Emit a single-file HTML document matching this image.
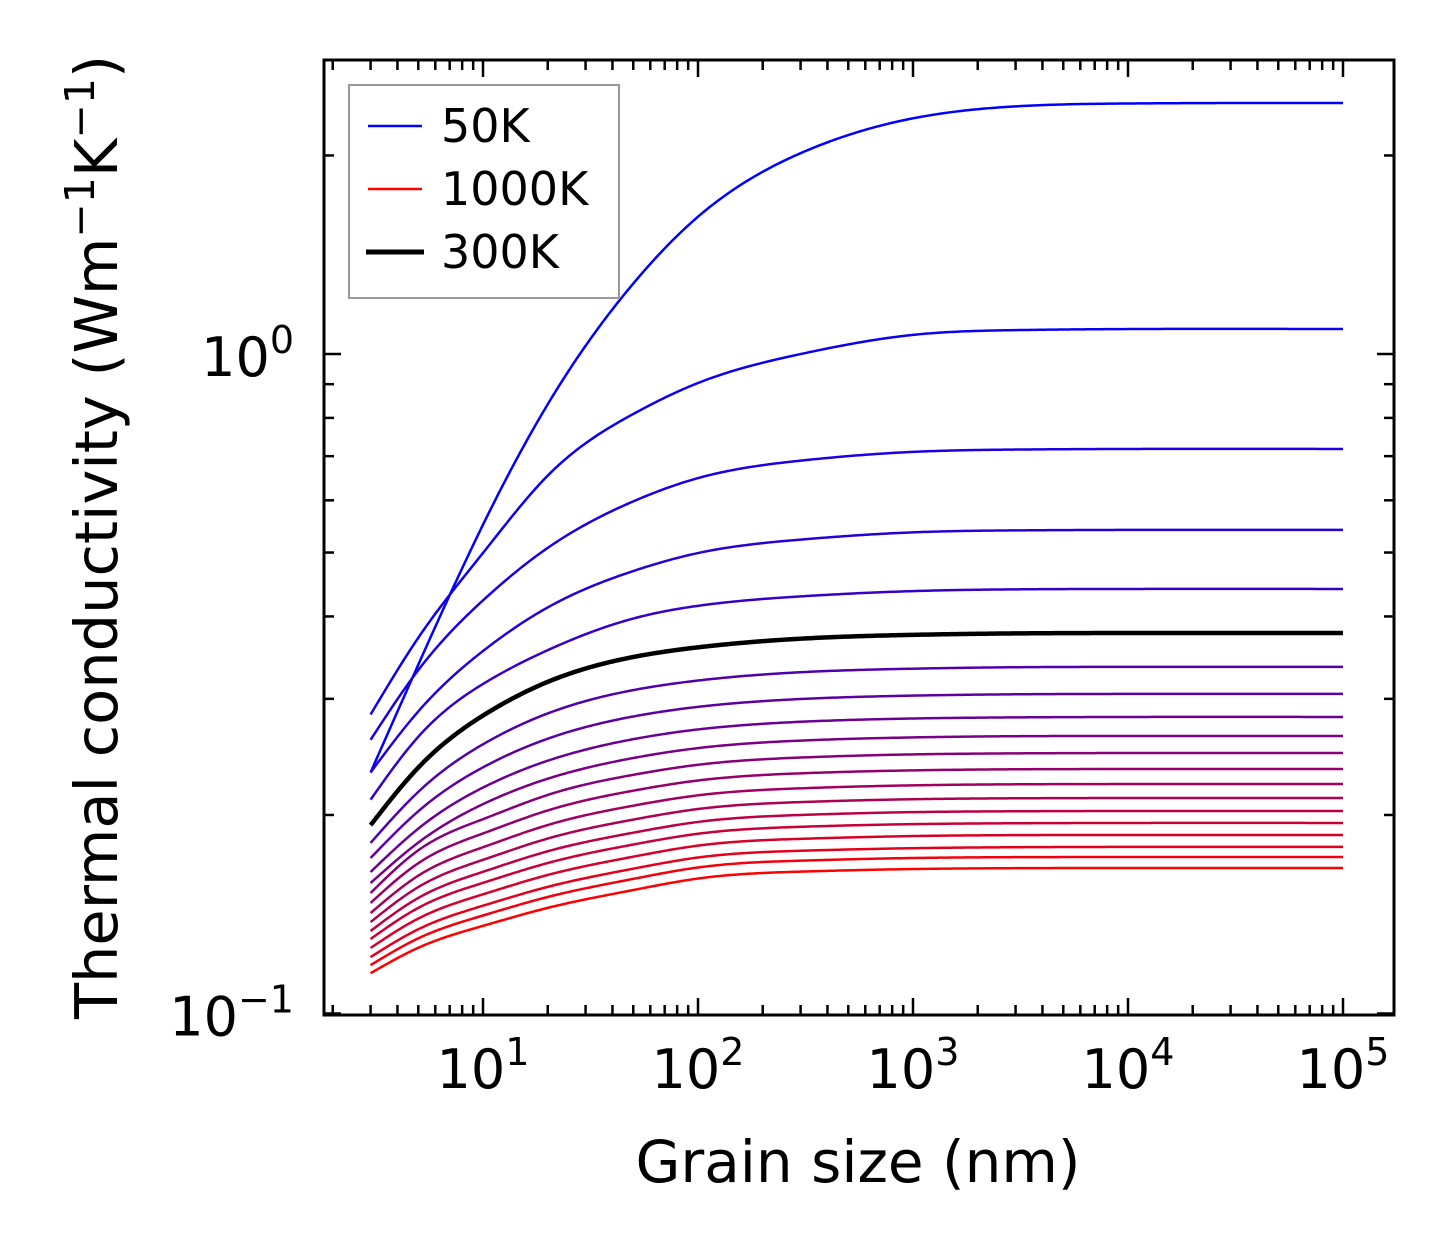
<!DOCTYPE html>
<html><head><meta charset="utf-8"><style>
html,body{margin:0;padding:0;background:#fff;}
svg{display:block;font-family:"DejaVu Sans","Liberation Sans",sans-serif;}
</style></head><body>
<svg id="chart" width="1454" height="1254" viewBox="0 0 1454 1254" xmlns="http://www.w3.org/2000/svg">
<rect width="1454" height="1254" fill="#fff"/>
<g id="series"></g>
<g id="ticks"></g>
<rect x="324" y="60" width="1070" height="955" fill="none" stroke="#000" stroke-width="3"/>
<g id="xlabels" font-size="54" text-anchor="middle"></g>
<g id="ylabels" font-size="54" text-anchor="end"></g>
<text x="858" y="1182" font-size="58" text-anchor="middle">Grain size (nm)</text>
<text transform="translate(117,537) rotate(-90)" font-size="59" text-anchor="middle">Thermal conductivity (Wm<tspan font-size="41" dy="-23">−1</tspan><tspan dy="23">K</tspan><tspan font-size="41" dy="-23">−1</tspan><tspan dy="23">)</tspan></text>
<g>
<rect x="349" y="85" width="270" height="213" fill="#fff" stroke="#999" stroke-width="2"/>
<line x1="368" y1="126" x2="422" y2="126" stroke="#0000ff" stroke-width="2.5"/>
<text x="441" y="142" font-size="46">50K</text>
<line x1="368" y1="189" x2="422" y2="189" stroke="#ff0000" stroke-width="2.5"/>
<text x="441" y="205" font-size="46">1000K</text>
<line x1="366" y1="252" x2="424" y2="252" stroke="#000" stroke-width="5"/>
<text x="441" y="268" font-size="46">300K</text>
</g>
</svg>
<script>
const grainSizes = [3, 5, 10, 20, 50, 100, 300, 1000, 3000, 10000, 100000];
const temperatures = [50,100,150,200,250,300,350,400,450,500,550,600,650,700,750,800,850,900,950,1000];
const k50 = [0.232,0.338,0.551,0.839,1.279,1.615,2.016,2.277,2.374,2.398,2.402];
const k100 = [0.284,0.3713,0.4993,0.654,0.8111,0.9037,0.9998,1.069,1.087,1.091,1.091];
const k150 = [0.260,0.3317,0.4231,0.5082,0.5978,0.6484,0.6891,0.7105,0.7163,0.7178,0.7178];
const k200 = [0.232,0.2871,0.3545,0.4128,0.4687,0.4991,0.5231,0.5365,0.5402,0.5411,0.5411];
const k250 = [0.211,0.2628,0.3160,0.3556,0.3971,0.4151,0.4290,0.4370,0.4397,0.4403,0.4403];
const k300 = [0.193,0.236,0.2830,0.3183,0.3472,0.3591,0.3701,0.3751,0.3770,0.3775,0.3775];
const k350 = [0.1814,0.2168,0.2560,0.2851,0.3093,0.3198,0.3292,0.3333,0.3350,0.3354,0.3354];
const k400 = [0.1721,0.2026,0.2362,0.2610,0.2821,0.2917,0.2998,0.3034,0.3048,0.3052,0.3052];
const k450 = [0.1639,0.1907,0.2201,0.2417,0.2606,0.2696,0.2769,0.2801,0.2812,0.2816,0.2816];
const k500 = [0.1577,0.1816,0.2077,0.2270,0.2440,0.2526,0.2593,0.2622,0.2633,0.2635,0.2635];
const k550 = [0.1523,0.1768,0.1971,0.2145,0.2301,0.2383,0.2444,0.2471,0.2480,0.2483,0.2483];
const k600 = [0.1471,0.1690,0.1875,0.2032,0.2177,0.2256,0.2313,0.2337,0.2346,0.2348,0.2348];
const k650 = [0.1420,0.1618,0.1787,0.1931,0.2066,0.2142,0.2195,0.2218,0.2226,0.2228,0.2228];
const k700 = [0.1376,0.1555,0.1710,0.1842,0.1968,0.2042,0.2092,0.2113,0.2120,0.2122,0.2122];
const k750 = [0.1334,0.1497,0.1640,0.1762,0.1880,0.1952,0.2000,0.2020,0.2026,0.2028,0.2028];
const k800 = [0.1297,0.1446,0.1578,0.1691,0.1804,0.1873,0.1919,0.1937,0.1943,0.1945,0.1945];
const k850 = [0.1257,0.1393,0.1516,0.1622,0.1729,0.1797,0.1840,0.1858,0.1864,0.1865,0.1865];
const k900 = [0.1218,0.1342,0.1457,0.1556,0.1658,0.1724,0.1765,0.1781,0.1787,0.1789,0.1789];
const k950 = [0.1184,0.1300,0.1408,0.1502,0.1600,0.1665,0.1705,0.1721,0.1726,0.1727,0.1727];
const k1000 = [0.1151,0.1258,0.1358,0.1446,0.1539,0.1602,0.1641,0.1656,0.1661,0.1662,0.1662];
const xTickExps = [1,2,3,4,5];
const yTickExps = [0,-1];

const seriesList = [k50,k100,k150,k200,k250,k300,k350,k400,k450,k500,k550,k600,k650,k700,k750,k800,k850,k900,k950,k1000];
const NS = "http://www.w3.org/2000/svg";
const X0 = 483, XD = 215;
const Y0 = 354, YD = 659.5;
const L = 324, R = 1394, T = 60, B = 1015;
function xs(v){ return X0 + (Math.log10(v) - 1) * XD; }
function ys(v){ return Y0 - Math.log10(v) * YD; }

function splinePath(px, py){
  const n = px.length, h = [], al = [], l = [1], mu = [0], z = [0], c = new Array(n).fill(0), b = [], d = [];
  for (let i=0;i<n-1;i++) h.push(px[i+1]-px[i]);
  for (let i=1;i<n-1;i++) al[i] = 3/h[i]*(py[i+1]-py[i]) - 3/h[i-1]*(py[i]-py[i-1]);
  for (let i=1;i<n-1;i++){
    l[i] = 2*(px[i+1]-px[i-1]) - h[i-1]*mu[i-1];
    mu[i] = h[i]/l[i];
    z[i] = (al[i] - h[i-1]*z[i-1])/l[i];
  }
  for (let j=n-2;j>=0;j--){
    c[j] = (j>0 ? z[j] - mu[j]*c[j+1] : 0);
    b[j] = (py[j+1]-py[j])/h[j] - h[j]*(c[j+1]+2*c[j])/3;
    d[j] = (c[j+1]-c[j])/(3*h[j]);
  }
  let p = "M"+px[0].toFixed(2)+","+py[0].toFixed(2);
  for (let j=0;j<n-1;j++){
    const steps = Math.max(4, Math.ceil(h[j]/3));
    for (let s=1;s<=steps;s++){
      const t = h[j]*s/steps;
      const y = py[j] + b[j]*t + c[j]*t*t + d[j]*t*t*t;
      p += " L"+(px[j]+t).toFixed(2)+","+y.toFixed(2);
    }
  }
  return p;
}

const gS = document.getElementById("series");
const order = [];
for (let i=0;i<seriesList.length;i++) if (temperatures[i]!==300) order.push(i);
order.push(temperatures.indexOf(300));
order.forEach(i=>{
  const vals = seriesList[i];
  const px = grainSizes.map(xs), py = vals.map(ys);
  const el = document.createElementNS(NS,"path");
  el.setAttribute("d", splinePath(px,py));
  const t = i/(seriesList.length-1);
  const isBlack = temperatures[i]===300;
  const col = isBlack ? "#000" : "rgb("+Math.round(255*t)+",0,"+Math.round(255*(1-t))+")";
  el.setAttribute("stroke", col);
  el.setAttribute("stroke-width", isBlack ? 4.5 : 2.5);
  el.setAttribute("stroke-linejoin","round");
  el.setAttribute("fill","none");
  
  
  gS.appendChild(el);
});

const gT = document.getElementById("ticks");
function tick(x1,y1,x2,y2,name){
  const l = document.createElementNS(NS,"line");
  l.setAttribute("x1",x1); l.setAttribute("y1",y1); l.setAttribute("x2",x2); l.setAttribute("y2",y2);
  l.setAttribute("stroke","#000"); l.setAttribute("stroke-width",2.5);
  
  
  gT.appendChild(l);
}
for (let e=0;e<=5;e++){
  for (let k=1;k<=9;k++){
    const v = k*Math.pow(10,e), x = xs(v);
    if (x < L+2 || x > R-2) continue;
    const len = k===1 ? 17 : 10;
    tick(x,B,x,B-len,'x-tick');
    tick(x,T,x,T+len,'x-tick-top');
  }
}
for (let e=-1;e<=0;e++){
  for (let k=1;k<=9;k++){
    const v = k*Math.pow(10,e), y = ys(v);
    if (y < T+2 || y > B) continue;
    const len = k===1 ? 17 : 10;
    tick(L,y,L+len,y,'y-tick');
    tick(R,y,R-len,y,'y-tick-right');
  }
}
const gX = document.getElementById("xlabels");
xTickExps.forEach(e=>{
  const t = document.createElementNS(NS,"text");
  t.setAttribute("x", xs(Math.pow(10,e)));
  t.setAttribute("y", 1088);
  t.innerHTML = '10<tspan font-size="38" dy="-23">'+e+'</tspan>';
  
  
  gX.appendChild(t);
});
const gY = document.getElementById("ylabels");
yTickExps.forEach(e=>{
  const t = document.createElementNS(NS,"text");
  t.setAttribute("x", 294);
  t.setAttribute("y", ys(Math.pow(10,e)) + 22);
  t.innerHTML = '10<tspan font-size="38" dy="-23">'+(e<0?'−':'')+Math.abs(e)+'</tspan>';
  
  
  gY.appendChild(t);
});
</script>
</body></html>
